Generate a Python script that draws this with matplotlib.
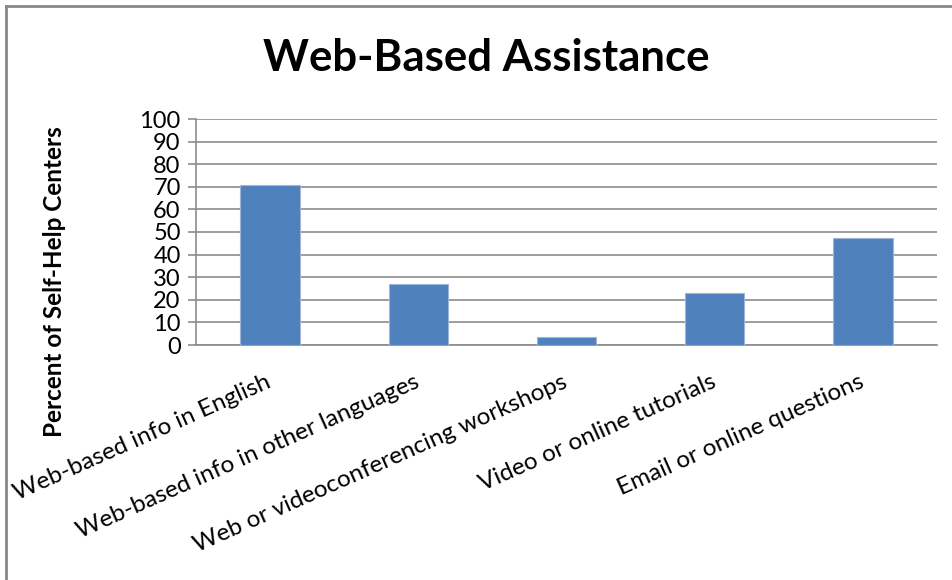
import matplotlib
matplotlib.use("Agg")
from matplotlib import pyplot as plt
from matplotlib.lines import Line2D

# chart data
categories = [
    "Web-based info in English",
    "Web-based info in other languages",
    "Web or videoconferencing workshops",
    "Video or online tutorials",
    "Email or online questions",
]
percent = [71, 27, 3.5, 23, 47.3]
y_ticks = list(range(0, 101, 10))

plt.rcParams['font.family'] = ['Lato', 'DejaVu Sans']

W, H = 953, 580
fig = plt.figure(figsize=(W / 100, H / 100), dpi=100)
ax = fig.add_axes([196 / W, (H - 345) / H, (937 - 196) / W, (345 - 119) / H])

grid_col = '#8c8c8c'
ax.bar(range(len(categories)), percent, width=0.4, color='#4F81BD',
       edgecolor='#9DB6DA', linewidth=0.8, zorder=3)

ax.set_xlim(-0.5, len(categories) - 0.5)
ax.set_ylim(0, 100)
ax.set_yticks(y_ticks)
ax.set_yticklabels([str(t) for t in y_ticks], fontsize=17)
ax.yaxis.grid(True, color=grid_col, linewidth=1.2, zorder=0)
ax.set_axisbelow(True)

for s in ['top', 'right']:
    ax.spines[s].set_visible(False)
for s in ['left', 'bottom']:
    ax.spines[s].set_color(grid_col)
    ax.spines[s].set_linewidth(1.2)
ax.tick_params(axis='y', length=6, color=grid_col, width=1.2, pad=5)
ax.tick_params(axis='x', length=0, pad=26)

ax.set_xticks(range(len(categories)))
ax.set_xticklabels(categories, fontsize=17.5, rotation=24, ha='right',
                   va='center', rotation_mode='anchor')

fig.text(55 / W, 1 - 282 / H, 'Percent of Self-Help Centers', fontsize=17.5,
         fontweight='bold', rotation=90, ha='center', va='center')

fig.text(486 / W, 1 - 58 / H, 'Web-Based Assistance', fontsize=31.5,
         fontweight='bold', ha='center', va='center')

# outer frame (top and left edges only are visible)
fig.add_artist(Line2D([6 / W, 1], [1 - 6 / H, 1 - 6 / H], color='#888888',
                      linewidth=2, transform=fig.transFigure))
fig.add_artist(Line2D([6 / W, 6 / W], [0, 1 - 6 / H], color='#888888',
                      linewidth=2, transform=fig.transFigure))

fig.savefig('out.png', dpi=100)
